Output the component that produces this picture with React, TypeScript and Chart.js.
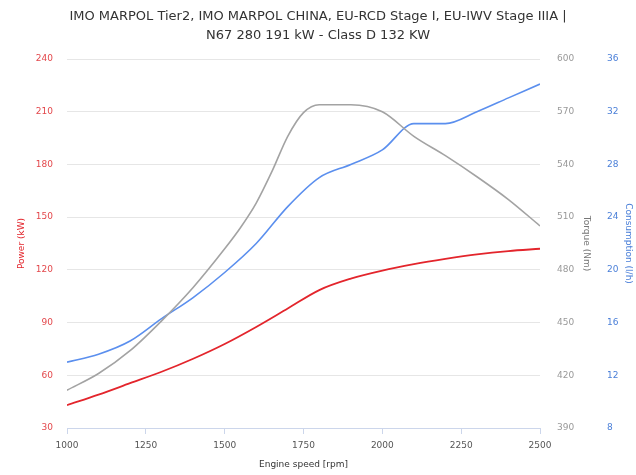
import React, { useEffect, useRef } from 'react';
import { Chart, registerables } from 'chart.js';

Chart.register(...registerables);

const titleLines = [
  'IMO MARPOL Tier2, IMO MARPOL CHINA, EU-RCD Stage I, EU-IWV Stage IIIA |',
  'N67 280 191 kW - Class D 132 KW',
];

const rpm = [1000, 1100, 1200, 1300, 1400, 1500, 1600, 1700, 1800, 1900, 2000, 2100, 2200, 2300, 2400, 2500];
const powerKW = [43, 49, 55.5, 62, 69.4, 77.8, 87.5, 98, 108.5, 115, 119.6, 123.2, 126.2, 128.8, 130.7, 132];
const torqueRpm = [1000, 1100, 1200, 1300, 1400, 1500, 1550, 1600, 1650, 1700, 1750, 1800, 1900, 2000, 2100, 2200, 2300, 2400, 2500];
const torqueNm = [411.5, 421, 434, 451, 470, 492, 504, 518, 536, 556, 569.5, 574, 574, 570, 556, 545, 533, 520, 505];
const consumptionLh = [13.0, 13.6, 14.6, 16.3, 17.9, 19.8, 22.0, 24.8, 27.0, 28.0, 29.1, 31.1, 31.1, 32.0, 33.05, 34.1];

const xTicks = { min: 1000, max: 2500, step: 250 };
const powerAxis = { min: 30, max: 240, step: 30 };
const torqueAxis = { min: 390, max: 600, step: 30 };
const consAxis = { min: 8, max: 36, step: 4 };

const FONT = '"DejaVu Sans", sans-serif';

export default function App() {
  const ref = useRef<HTMLCanvasElement | null>(null);

  useEffect(() => {
    if (!ref.current) return;
    const pts = (xs: number[], arr: number[]) => arr.map((v, i) => ({ x: xs[i], y: v }));
    const chart = new Chart(ref.current, {
      type: 'line',
      data: {
        datasets: [
          {
            label: 'Power',
            data: pts(rpm, powerKW),
            yAxisID: 'y',
            borderColor: '#e3252c',
            borderWidth: 1.8,
            pointRadius: 0,
            cubicInterpolationMode: 'monotone',
          },
          {
            label: 'Torque',
            data: pts(torqueRpm, torqueNm),
            yAxisID: 'y1',
            borderColor: '#a3a3a3',
            borderWidth: 1.6,
            pointRadius: 0,
            cubicInterpolationMode: 'monotone',
          },
          {
            label: 'Consumption',
            data: pts(rpm, consumptionLh),
            yAxisID: 'y2',
            borderColor: '#5b8fee',
            borderWidth: 1.6,
            pointRadius: 0,
            cubicInterpolationMode: 'monotone',
          },
        ],
      },
      options: {
        responsive: false,
        animation: false,
        layout: { padding: 0 },
        plugins: {
          legend: { display: false },
          tooltip: { enabled: false },
          title: {
            display: true,
            text: titleLines,
            color: '#333333',
            font: { family: FONT, size: 13, weight: 'normal', lineHeight: '19px' },
            padding: { top: 7.5, bottom: 13.5 },
          },
        },
        scales: {
          x: {
            type: 'linear',
            min: xTicks.min,
            max: xTicks.max,
            ticks: {
              stepSize: xTicks.step,
              color: '#555555',
              font: { family: FONT, size: 9 },
              padding: 6,
              maxRotation: 0,
              callback: (v: any) => String(v),
            },
            grid: { drawOnChartArea: false, drawTicks: true, tickLength: 6, color: '#ccd6eb' },
            border: { display: true, color: '#ccd6eb' },
            title: {
              display: true,
              text: 'Engine speed [rpm]',
              color: '#333333',
              font: { family: FONT, size: 9 },
              padding: { top: 0, bottom: 4.6 },
            },
            afterFit: (s: any) => { s.height = 47; },
          },
          y: {
            position: 'left',
            min: powerAxis.min,
            max: powerAxis.max,
            ticks: {
              stepSize: powerAxis.step,
              color: '#e3474b',
              font: { family: FONT, size: 9 },
              padding: 14,
            },
            grid: { color: '#e6e6e6', drawTicks: false },
            border: { display: false },
            title: {
              display: true,
              text: 'Power (kW)',
              color: '#e3252c',
              font: { family: FONT, size: 9 },
              padding: { top: 16.6, bottom: 0 },
            },
            afterFit: (s: any) => { s.width = 67; },
          },
          y1: {
            position: 'right',
            min: torqueAxis.min,
            max: torqueAxis.max,
            ticks: {
              stepSize: torqueAxis.step,
              color: '#999999',
              font: { family: FONT, size: 9 },
              padding: 17,
            },
            grid: { drawOnChartArea: false, drawTicks: false },
            border: { display: false },
            title: {
              display: true,
              text: 'Torque (Nm)',
              color: '#777777',
              font: { family: FONT, size: 9 },
              padding: { top: 5.6, bottom: 0 },
            },
            afterFit: (s: any) => { s.width = 57; },
          },
          y2: {
            position: 'right',
            min: consAxis.min,
            max: consAxis.max,
            ticks: {
              stepSize: consAxis.step,
              color: '#4a7fd8',
              font: { family: FONT, size: 9 },
              padding: 10,
            },
            grid: { drawOnChartArea: false, drawTicks: false },
            border: { display: false },
            title: {
              display: true,
              text: 'Consumption (l/h)',
              color: '#4a7fd8',
              font: { family: FONT, size: 9 },
              padding: { top: 2.6, bottom: 0 },
            },
            afterFit: (s: any) => { s.width = 39; },
          },
        },
      },
    } as any);
    return () => chart.destroy();
  }, []);

  return (
    <div style={{ position: 'fixed', left: 0, top: 0, width: 636, height: 475, background: '#ffffff' }}>
      <canvas ref={ref} width={636} height={475} style={{ display: 'block' }} />
    </div>
  );
}
